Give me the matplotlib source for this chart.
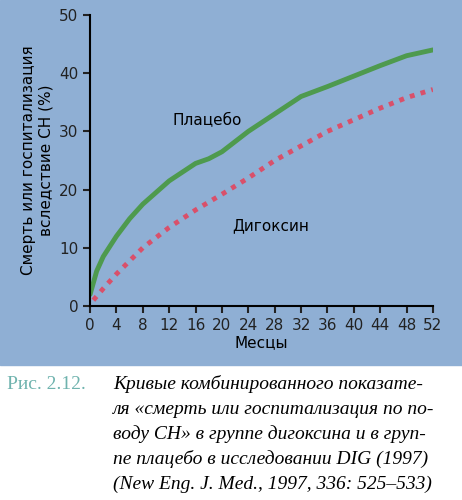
import matplotlib
matplotlib.use("Agg")
import matplotlib.pyplot as plt
from matplotlib.patches import Rectangle

months_p = [0, 1, 2, 4, 6, 8, 10, 12, 14, 16, 18, 20, 24, 28, 32, 36, 40, 44, 48, 52]
placebo = [2, 6, 8.5, 12, 15, 17.5, 19.5, 21.5, 23, 24.5, 25.3, 26.5, 30, 33, 36, 37.7, 39.5, 41.3, 43, 44]
months_d = [0.5, 2, 4, 8, 12, 16, 20, 24, 28, 32, 36, 40, 44, 48, 52]
digoxin = [1, 3, 5.5, 10, 13.5, 16.5, 19.2, 22, 25, 27.5, 30, 32, 34, 35.8, 37.2]
xticks = list(range(0, 53, 4))
yticks = [0, 10, 20, 30, 40, 50]

fig = plt.figure(figsize=(4.62, 5.0), dpi=100)
fig.patches.append(Rectangle((0, 0.27), 1, 0.73, transform=fig.transFigure,
                             color="#8fafd4", zorder=-10))
ax = fig.add_axes([0.195, 0.388, 0.742, 0.582])
ax.set_zorder(5)
ax.set_facecolor("none")
ax.plot(months_p, placebo, color="#4e9a4e", lw=3.5, solid_capstyle="round")
ax.plot(months_d, digoxin, color="#d9506a", lw=3.5, linestyle=(0, (1, 1.3)))
ax.set_xlim(0, 52)
ax.set_ylim(0, 50)
ax.set_xticks(xticks)
ax.set_yticks(yticks)
for s in ["top", "right"]:
    ax.spines[s].set_visible(False)
for s in ["left", "bottom"]:
    ax.spines[s].set_linewidth(1.5)
ax.tick_params(labelsize=11, width=1.5, length=5, colors="#222222")
ax.set_xlabel("Месцы", fontsize=11, labelpad=2)
ax.set_ylabel("Смерть или госпитализация\nвследствие СН (%)", fontsize=11, labelpad=4)
ax.text(12.5, 31, "Плацебо", fontsize=11)
ax.text(21.5, 13, "Дигоксин", fontsize=11)

serif = "Liberation Serif"
y0 = 0.222
fig.text(0.015, y0, "Рис. 2.12.", fontsize=14, color="#6fb3ae", family=serif)
fig.text(0.245, y0, "Кривые комбинированного показате-", fontsize=14,
         style="italic", family=serif)
lines = ["ля «смерть или госпитализация по по-",
         "воду СН» в группе дигоксина и в груп-",
         "пе плацебо в исследовании DIG (1997)",
         "(New Eng. J. Med., 1997, 336: 525–533)"]
for i, t in enumerate(lines):
    fig.text(0.245, y0 - 0.05 * (i + 1), t, fontsize=14, style="italic", family=serif)
fig.savefig("out.png", dpi=100)
